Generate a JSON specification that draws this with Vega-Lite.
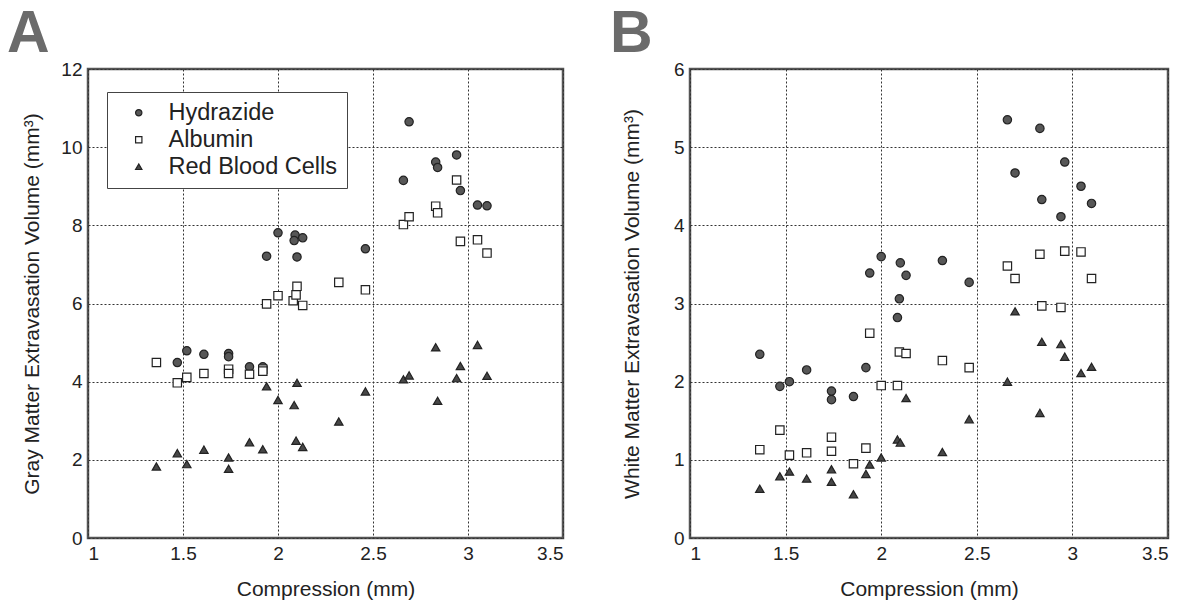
{
  "$schema": "https://vega.github.io/schema/vega-lite/v6.json",
  "background": "white",
  "padding": {"left": 5, "top": 3, "right": 5, "bottom": 5},
  "config": {
    "font": "Liberation Sans",
    "view": {"stroke": "#555", "strokeWidth": 2.5},
    "axis": {"grid": true, "gridColor": "#333", "gridDash": [2, 2], "gridWidth": 1, "domain": false, "ticks": false, "labelFontSize": 19, "labelColor": "#222", "labelPadding": 6, "titleFontSize": 21, "titleFontWeight": "normal", "titleColor": "#222"},
    "title": {"fontSize": 59, "fontWeight": "bold", "color": "#6b6b6b", "anchor": "start", "frame": "group", "offset": -4},
    "legend": {"orient": "none", "padding": 9, "strokeColor": "#444", "fillColor": "white", "labelFontSize": 23.5, "labelLimit": 400, "labelColor": "#222", "symbolSize": 40, "symbolStrokeWidth": 1.2, "rowPadding": 2, "labelOffset": 18, "symbolOffset": 11},
    "concat": {"spacing": 43}
  },
  "datasets": {
    "A": [
      {"compression": 1.47, "volume": 4.49, "series": "Hydrazide"},
      {"compression": 1.52, "volume": 4.79, "series": "Hydrazide"},
      {"compression": 1.61, "volume": 4.70, "series": "Hydrazide"},
      {"compression": 1.74, "volume": 4.72, "series": "Hydrazide"},
      {"compression": 1.74, "volume": 4.64, "series": "Hydrazide"},
      {"compression": 1.85, "volume": 4.38, "series": "Hydrazide"},
      {"compression": 1.92, "volume": 4.38, "series": "Hydrazide"},
      {"compression": 1.94, "volume": 7.21, "series": "Hydrazide"},
      {"compression": 2.0, "volume": 7.81, "series": "Hydrazide"},
      {"compression": 2.09, "volume": 7.75, "series": "Hydrazide"},
      {"compression": 2.085, "volume": 7.61, "series": "Hydrazide"},
      {"compression": 2.13, "volume": 7.68, "series": "Hydrazide"},
      {"compression": 2.1, "volume": 7.19, "series": "Hydrazide"},
      {"compression": 2.46, "volume": 7.40, "series": "Hydrazide"},
      {"compression": 2.66, "volume": 9.15, "series": "Hydrazide"},
      {"compression": 2.69, "volume": 10.65, "series": "Hydrazide"},
      {"compression": 2.83, "volume": 9.62, "series": "Hydrazide"},
      {"compression": 2.84, "volume": 9.48, "series": "Hydrazide"},
      {"compression": 2.94, "volume": 9.80, "series": "Hydrazide"},
      {"compression": 2.96, "volume": 8.89, "series": "Hydrazide"},
      {"compression": 3.05, "volume": 8.52, "series": "Hydrazide"},
      {"compression": 3.1, "volume": 8.50, "series": "Hydrazide"},
      {"compression": 1.36, "volume": 4.49, "series": "Albumin"},
      {"compression": 1.47, "volume": 3.97, "series": "Albumin"},
      {"compression": 1.52, "volume": 4.11, "series": "Albumin"},
      {"compression": 1.61, "volume": 4.21, "series": "Albumin"},
      {"compression": 1.74, "volume": 4.32, "series": "Albumin"},
      {"compression": 1.74, "volume": 4.21, "series": "Albumin"},
      {"compression": 1.85, "volume": 4.19, "series": "Albumin"},
      {"compression": 1.92, "volume": 4.32, "series": "Albumin"},
      {"compression": 1.92, "volume": 4.27, "series": "Albumin"},
      {"compression": 1.94, "volume": 5.99, "series": "Albumin"},
      {"compression": 2.0, "volume": 6.20, "series": "Albumin"},
      {"compression": 2.08, "volume": 6.07, "series": "Albumin"},
      {"compression": 2.1, "volume": 6.44, "series": "Albumin"},
      {"compression": 2.095, "volume": 6.22, "series": "Albumin"},
      {"compression": 2.13, "volume": 5.95, "series": "Albumin"},
      {"compression": 2.32, "volume": 6.54, "series": "Albumin"},
      {"compression": 2.46, "volume": 6.35, "series": "Albumin"},
      {"compression": 2.66, "volume": 8.02, "series": "Albumin"},
      {"compression": 2.69, "volume": 8.22, "series": "Albumin"},
      {"compression": 2.83, "volume": 8.49, "series": "Albumin"},
      {"compression": 2.84, "volume": 8.32, "series": "Albumin"},
      {"compression": 2.94, "volume": 9.16, "series": "Albumin"},
      {"compression": 2.96, "volume": 7.59, "series": "Albumin"},
      {"compression": 3.05, "volume": 7.63, "series": "Albumin"},
      {"compression": 3.1, "volume": 7.29, "series": "Albumin"},
      {"compression": 1.36, "volume": 1.83, "series": "Red Blood Cells"},
      {"compression": 1.47, "volume": 2.17, "series": "Red Blood Cells"},
      {"compression": 1.52, "volume": 1.89, "series": "Red Blood Cells"},
      {"compression": 1.61, "volume": 2.26, "series": "Red Blood Cells"},
      {"compression": 1.74, "volume": 2.06, "series": "Red Blood Cells"},
      {"compression": 1.74, "volume": 1.77, "series": "Red Blood Cells"},
      {"compression": 1.85, "volume": 2.45, "series": "Red Blood Cells"},
      {"compression": 1.92, "volume": 2.27, "series": "Red Blood Cells"},
      {"compression": 1.94, "volume": 3.88, "series": "Red Blood Cells"},
      {"compression": 2.0, "volume": 3.53, "series": "Red Blood Cells"},
      {"compression": 2.1, "volume": 3.97, "series": "Red Blood Cells"},
      {"compression": 2.085, "volume": 3.40, "series": "Red Blood Cells"},
      {"compression": 2.095, "volume": 2.49, "series": "Red Blood Cells"},
      {"compression": 2.13, "volume": 2.33, "series": "Red Blood Cells"},
      {"compression": 2.32, "volume": 2.98, "series": "Red Blood Cells"},
      {"compression": 2.46, "volume": 3.75, "series": "Red Blood Cells"},
      {"compression": 2.66, "volume": 4.06, "series": "Red Blood Cells"},
      {"compression": 2.69, "volume": 4.16, "series": "Red Blood Cells"},
      {"compression": 2.83, "volume": 4.88, "series": "Red Blood Cells"},
      {"compression": 2.84, "volume": 3.51, "series": "Red Blood Cells"},
      {"compression": 2.94, "volume": 4.09, "series": "Red Blood Cells"},
      {"compression": 2.96, "volume": 4.40, "series": "Red Blood Cells"},
      {"compression": 3.05, "volume": 4.94, "series": "Red Blood Cells"},
      {"compression": 3.1, "volume": 4.15, "series": "Red Blood Cells"}
    ],
    "B": [
      {"compression": 1.365, "volume": 2.35, "series": "Hydrazide"},
      {"compression": 1.47, "volume": 1.94, "series": "Hydrazide"},
      {"compression": 1.52, "volume": 2.00, "series": "Hydrazide"},
      {"compression": 1.61, "volume": 2.15, "series": "Hydrazide"},
      {"compression": 1.74, "volume": 1.88, "series": "Hydrazide"},
      {"compression": 1.74, "volume": 1.77, "series": "Hydrazide"},
      {"compression": 1.855, "volume": 1.81, "series": "Hydrazide"},
      {"compression": 1.92, "volume": 2.18, "series": "Hydrazide"},
      {"compression": 1.94, "volume": 3.39, "series": "Hydrazide"},
      {"compression": 2.0, "volume": 3.60, "series": "Hydrazide"},
      {"compression": 2.085, "volume": 2.82, "series": "Hydrazide"},
      {"compression": 2.095, "volume": 3.06, "series": "Hydrazide"},
      {"compression": 2.1, "volume": 3.52, "series": "Hydrazide"},
      {"compression": 2.13, "volume": 3.36, "series": "Hydrazide"},
      {"compression": 2.32, "volume": 3.55, "series": "Hydrazide"},
      {"compression": 2.46, "volume": 3.27, "series": "Hydrazide"},
      {"compression": 2.66, "volume": 5.35, "series": "Hydrazide"},
      {"compression": 2.7, "volume": 4.67, "series": "Hydrazide"},
      {"compression": 2.83, "volume": 5.24, "series": "Hydrazide"},
      {"compression": 2.84, "volume": 4.33, "series": "Hydrazide"},
      {"compression": 2.94, "volume": 4.11, "series": "Hydrazide"},
      {"compression": 2.96, "volume": 4.81, "series": "Hydrazide"},
      {"compression": 3.045, "volume": 4.50, "series": "Hydrazide"},
      {"compression": 3.1, "volume": 4.28, "series": "Hydrazide"},
      {"compression": 1.365, "volume": 1.13, "series": "Albumin"},
      {"compression": 1.47, "volume": 1.38, "series": "Albumin"},
      {"compression": 1.52, "volume": 1.06, "series": "Albumin"},
      {"compression": 1.61, "volume": 1.09, "series": "Albumin"},
      {"compression": 1.74, "volume": 1.29, "series": "Albumin"},
      {"compression": 1.74, "volume": 1.11, "series": "Albumin"},
      {"compression": 1.855, "volume": 0.95, "series": "Albumin"},
      {"compression": 1.92, "volume": 1.15, "series": "Albumin"},
      {"compression": 1.94, "volume": 2.62, "series": "Albumin"},
      {"compression": 2.0, "volume": 1.95, "series": "Albumin"},
      {"compression": 2.085, "volume": 1.95, "series": "Albumin"},
      {"compression": 2.095, "volume": 2.38, "series": "Albumin"},
      {"compression": 2.13, "volume": 2.36, "series": "Albumin"},
      {"compression": 2.32, "volume": 2.27, "series": "Albumin"},
      {"compression": 2.46, "volume": 2.18, "series": "Albumin"},
      {"compression": 2.66, "volume": 3.48, "series": "Albumin"},
      {"compression": 2.7, "volume": 3.32, "series": "Albumin"},
      {"compression": 2.83, "volume": 3.63, "series": "Albumin"},
      {"compression": 2.84, "volume": 2.97, "series": "Albumin"},
      {"compression": 2.94, "volume": 2.95, "series": "Albumin"},
      {"compression": 2.96, "volume": 3.67, "series": "Albumin"},
      {"compression": 3.045, "volume": 3.66, "series": "Albumin"},
      {"compression": 3.1, "volume": 3.32, "series": "Albumin"},
      {"compression": 1.365, "volume": 0.63, "series": "Red Blood Cells"},
      {"compression": 1.47, "volume": 0.79, "series": "Red Blood Cells"},
      {"compression": 1.52, "volume": 0.85, "series": "Red Blood Cells"},
      {"compression": 1.61, "volume": 0.76, "series": "Red Blood Cells"},
      {"compression": 1.74, "volume": 0.88, "series": "Red Blood Cells"},
      {"compression": 1.74, "volume": 0.72, "series": "Red Blood Cells"},
      {"compression": 1.855, "volume": 0.56, "series": "Red Blood Cells"},
      {"compression": 1.92, "volume": 0.82, "series": "Red Blood Cells"},
      {"compression": 1.94, "volume": 0.94, "series": "Red Blood Cells"},
      {"compression": 2.0, "volume": 1.03, "series": "Red Blood Cells"},
      {"compression": 2.085, "volume": 1.26, "series": "Red Blood Cells"},
      {"compression": 2.1, "volume": 1.22, "series": "Red Blood Cells"},
      {"compression": 2.13, "volume": 1.79, "series": "Red Blood Cells"},
      {"compression": 2.32, "volume": 1.10, "series": "Red Blood Cells"},
      {"compression": 2.46, "volume": 1.52, "series": "Red Blood Cells"},
      {"compression": 2.66, "volume": 2.00, "series": "Red Blood Cells"},
      {"compression": 2.7, "volume": 2.90, "series": "Red Blood Cells"},
      {"compression": 2.83, "volume": 1.60, "series": "Red Blood Cells"},
      {"compression": 2.84, "volume": 2.51, "series": "Red Blood Cells"},
      {"compression": 2.94, "volume": 2.48, "series": "Red Blood Cells"},
      {"compression": 2.96, "volume": 2.32, "series": "Red Blood Cells"},
      {"compression": 3.045, "volume": 2.11, "series": "Red Blood Cells"},
      {"compression": 3.1, "volume": 2.19, "series": "Red Blood Cells"}
    ]
  },
  "hconcat": [
    {
      "title": {"text": "A", "dx": -81},
      "width": 475,
      "height": 469,
      "data": {"name": "A"},
      "mark": {"type": "point", "opacity": 1, "strokeWidth": 1.2, "size": 70},
      "encoding": {
        "x": {"field": "compression", "type": "quantitative", "scale": {"domain": [1, 3.5], "nice": false, "zero": false}, "axis": {"values": [1, 1.5, 2, 2.5, 3, 3.5], "format": "~g", "title": "Compression (mm)", "titlePadding": 15}},
        "y": {"field": "volume", "type": "quantitative", "scale": {"domain": [0, 12], "nice": false}, "axis": {"values": [0, 2, 4, 6, 8, 10, 12], "title": "Gray Matter Extravasation Volume (mm³)", "titlePadding": 18}},
        "shape": {"field": "series", "type": "nominal", "scale": {"domain": ["Hydrazide", "Albumin", "Red Blood Cells"], "range": ["circle", "square", "triangle-up"]}, "legend": {"title": null, "legendX": 19, "legendY": 23}},
        "fill": {"field": "series", "type": "nominal", "scale": {"domain": ["Hydrazide", "Albumin", "Red Blood Cells"], "range": ["#575757", "#ffffff", "#474747"]}, "legend": {"title": null, "legendX": 19, "legendY": 23}},
        "stroke": {"field": "series", "type": "nominal", "scale": {"domain": ["Hydrazide", "Albumin", "Red Blood Cells"], "range": ["#222222", "#222222", "#222222"]}, "legend": {"title": null, "legendX": 19, "legendY": 23}}
      }
    },
    {
      "title": {"text": "B", "dx": -80},
      "width": 478,
      "height": 469,
      "data": {"name": "B"},
      "mark": {"type": "point", "opacity": 1, "strokeWidth": 1.2, "size": 70},
      "encoding": {
        "x": {"field": "compression", "type": "quantitative", "scale": {"domain": [1, 3.5], "nice": false, "zero": false}, "axis": {"values": [1, 1.5, 2, 2.5, 3, 3.5], "format": "~g", "title": "Compression (mm)", "titlePadding": 15}},
        "y": {"field": "volume", "type": "quantitative", "scale": {"domain": [0, 6], "nice": false}, "axis": {"values": [0, 1, 2, 3, 4, 5, 6], "title": "White Matter Extravasation Volume (mm³)", "titlePadding": 31}},
        "shape": {"field": "series", "type": "nominal", "scale": {"domain": ["Hydrazide", "Albumin", "Red Blood Cells"], "range": ["circle", "square", "triangle-up"]}, "legend": {"title": null, "legendX": 19, "legendY": 25}},
        "fill": {"field": "series", "type": "nominal", "scale": {"domain": ["Hydrazide", "Albumin", "Red Blood Cells"], "range": ["#575757", "#ffffff", "#474747"]}, "legend": {"title": null, "legendX": 19, "legendY": 25}},
        "stroke": {"field": "series", "type": "nominal", "scale": {"domain": ["Hydrazide", "Albumin", "Red Blood Cells"], "range": ["#222222", "#222222", "#222222"]}, "legend": {"title": null, "legendX": 19, "legendY": 25}}
      }
    }
  ]
}
